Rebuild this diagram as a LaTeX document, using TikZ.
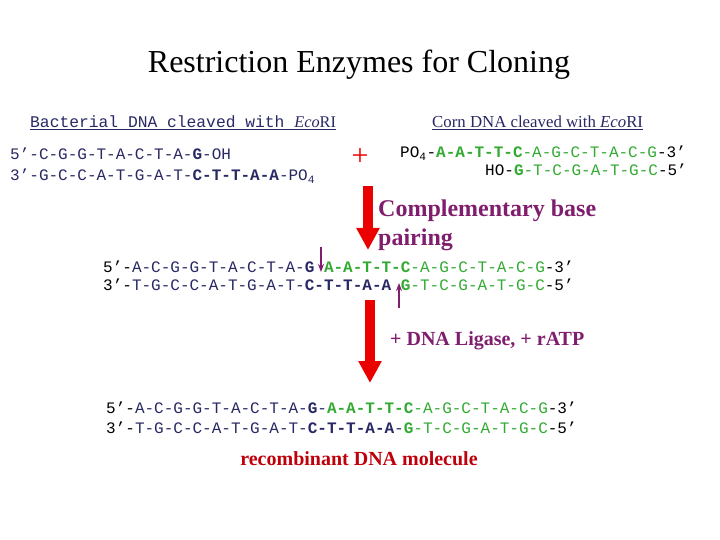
\documentclass[tikz,border=0pt]{standalone}
\usepackage{fontspec}
\setmainfont{Liberation Serif}
\newfontfamily\seqf{Liberation Mono}
\usetikzlibrary{arrows.meta}
\definecolor{navy}{RGB}{40,40,100}
\definecolor{grn}{RGB}{50,170,50}
\definecolor{purp}{RGB}{128,30,110}
\definecolor{bigred}{RGB}{235,0,0}
\definecolor{txtred}{RGB}{190,0,10}
\newcommand\Nv[1]{\textcolor{navy}{#1}}
\newcommand\NB[1]{\textcolor{navy}{\bfseries #1}}
\newcommand\Gr[1]{\textcolor{grn}{#1}}
\newcommand\GB[1]{\textcolor{grn}{\bfseries #1}}
\newcommand\POf{PO\textsubscript{4}}
\tikzset{
 seq/.style={anchor=base west,inner sep=0,font=\seqf\fontsize{16}{18}\selectfont},
 lbl/.style={anchor=base west,inner sep=0,text=purp,font=\bfseries\fontsize{24}{26}\selectfont,align=left},
 bigarrow/.style={bigred,line width=10pt,-{Triangle[width=22pt,length=22pt]}},
 smallarrow/.style={purp,line width=1.3pt,-{Stealth[length=8pt,width=6pt]}}
}
\begin{document}
\begin{tikzpicture}[x=1pt,y=-1pt]
\useasboundingbox (0,0) rectangle (720,540);
\node[font=\fontsize{32}{34}\selectfont,anchor=base] (title) at (359,73) {Restriction Enzymes for Cloning};
\node[anchor=base west,inner sep=0,text=navy,font=\seqf\fontsize{16.3}{18}\selectfont] (bh) at (30,128) {\underline{Bacterial DNA cleaved with \rmfamily\itshape Eco\upshape RI}};
\node[anchor=base west,inner sep=0,text=navy,font=\fontsize{16.8}{18}\selectfont] (ch) at (432,128) {\underline{Corn DNA cleaved with \itshape Eco\upshape RI}};
\node[seq] (b1) at (10,160) {\Nv{5’-C-G-G-T-A-C-T-A-}\NB{G}\Nv{-OH}};
\node[seq] (b2) at (10,181) {\Nv{3’-G-C-C-A-T-G-A-T-}\NB{C-T-T-A-A}\Nv{-\POf}};
\node[anchor=base,text=bigred,font=\fontsize{30}{32}\selectfont,inner sep=0] (plus) at (360,166) {+};
\node[seq] (c1) at (400,158) {\POf-\GB{A-A-T-T-C}\Gr{-A-G-C-T-A-C-G}-3’};
\node[seq] (c2) at (485,176) {HO-\GB{G}\Gr{-T-C-G-A-T-G-C}-5’};
\coordinate (a1s) at (368,186);
\coordinate (a1e) at (368,250);
\draw[bigarrow] (a1s) -- (a1e);
\node[lbl] (cbp) at (378,217) {Complementary base};
\node[lbl] (cbp2) at (378,245) {pairing};
\node[seq] (m1) at (103,272) {5’-\Nv{A-C-G-G-T-A-C-T-A-}\NB{G} \GB{A-A-T-T-C}\Gr{-A-G-C-T-A-C-G}-3’};
\node[seq] (m2) at (103,290) {3’-\Nv{T-G-C-C-A-T-G-A-T-}\NB{C-T-T-A-A} \GB{G}\Gr{-T-C-G-A-T-G-C}-5’};
\coordinate (s1a) at (321,247);
\coordinate (s1b) at (321,272);
\draw[smallarrow] (s1a) -- (s1b);
\coordinate (s2a) at (399,308);
\coordinate (s2b) at (399,283);
\draw[smallarrow] (s2a) -- (s2b);
\coordinate (a2s) at (370,300);
\coordinate (a2e) at (370,383);
\draw[bigarrow] (a2s) -- (a2e);
\node[anchor=base west,inner sep=0,text=purp,font=\bfseries\fontsize{20}{22}\selectfont] (lig) at (390,345) {+ DNA Ligase, + rATP};
\node[seq] (r1) at (106,413) {5’-\Nv{A-C-G-G-T-A-C-T-A-}\NB{G}\Nv{-}\GB{A-A-T-T-C}\Gr{-A-G-C-T-A-C-G}-3’};
\node[seq] (r2) at (106,433) {3’-\Nv{T-G-C-C-A-T-G-A-T-}\NB{C-T-T-A-A}\Nv{-}\GB{G}\Gr{-T-C-G-A-T-G-C}-5’};
\node[anchor=base,inner sep=0,text=txtred,font=\bfseries\fontsize{20}{22}\selectfont] (rec) at (359,465) {recombinant DNA molecule};
\end{tikzpicture}
\end{document}
